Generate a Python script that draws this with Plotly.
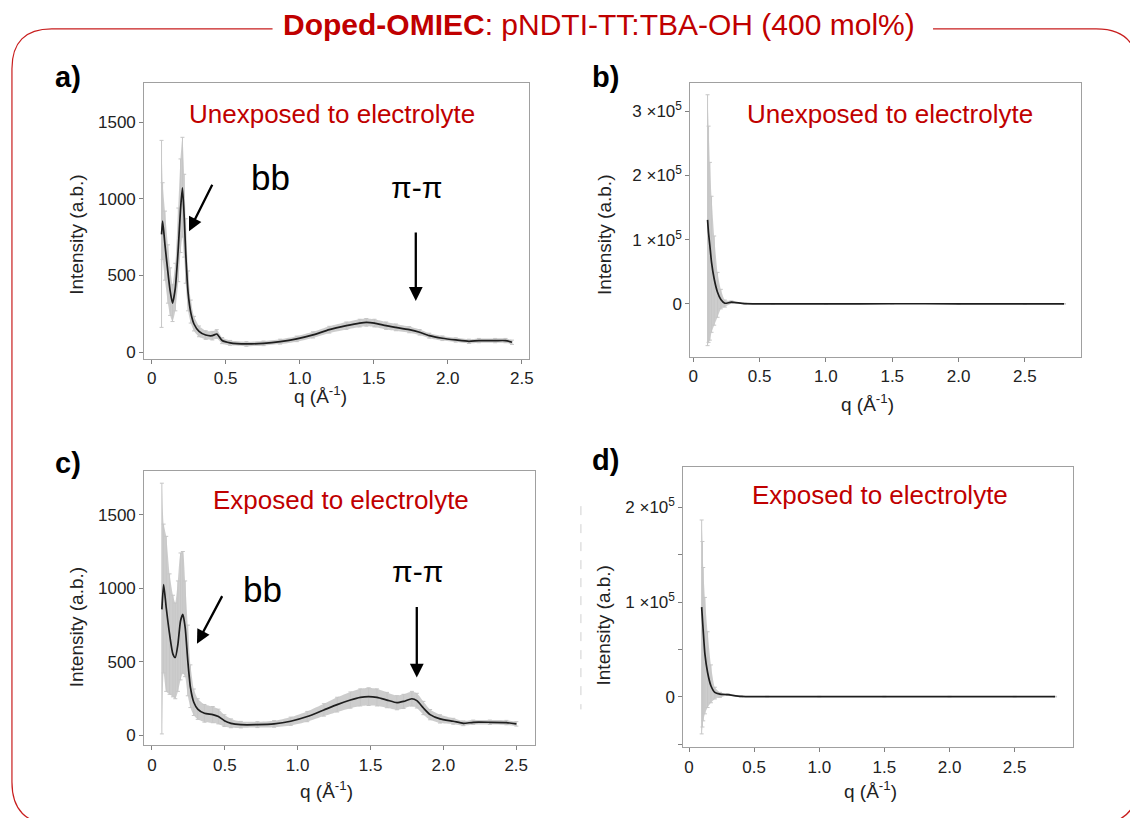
import plotly.graph_objects as go

W, H = 1130, 818
def px(x): return x / W
def py(y): return 1 - y / H

# ---------------- data ----------------
# Panel a: unexposed, full-scale
qa = [0.067, 0.074, 0.09, 0.11, 0.125, 0.141, 0.16, 0.18, 0.195, 0.208, 0.22, 0.23, 0.246, 0.264,
      0.286, 0.32, 0.365, 0.41, 0.44, 0.476, 0.53, 0.64, 0.756, 0.868, 0.98, 1.09, 1.2, 1.315,
      1.405, 1.45, 1.505, 1.584, 1.65, 1.74, 1.81, 1.875, 1.964, 2.054, 2.143, 2.21, 2.32, 2.39, 2.434]
Ia = [768, 855, 700, 520, 400, 320, 420, 680, 930, 1071, 880, 650, 390, 260,
      184, 136, 112, 108, 119, 76, 61, 54, 58, 69, 87, 113, 147, 173,
      190, 195, 190, 173, 162, 147, 130, 108, 91, 80, 71, 76, 76, 76, 65]
Ea_hi = [613, 250, 220, 180, 150, 120, 160, 260, 330, 330, 280, 220, 140, 80,
         50, 35, 28, 28, 28, 20, 16, 15, 15, 16, 18, 20, 22, 24,
         25, 25, 25, 24, 22, 20, 18, 16, 15, 14, 14, 14, 14, 14, 14]
Ea_lo = [606, 250, 230, 200, 160, 120, 150, 220, 280, 320, 260, 200, 120, 70,
         45, 35, 28, 28, 28, 20, 16, 15, 15, 16, 18, 20, 22, 24,
         25, 25, 25, 24, 22, 20, 18, 16, 15, 14, 14, 14, 14, 14, 14]

# Panel b: unexposed, low-q upturn
qb = [0.1075, 0.115, 0.125, 0.1375, 0.1575, 0.1825, 0.2075, 0.2375, 0.2875, 0.3875, 0.6, 1.0, 1.5, 2.0, 2.5, 2.795]
Ib = [130900, 110000, 90500, 64700, 38800, 18100, 6700, 1000, 2600, 300, 150, 120, 200, 150, 100, 80]
Eb_hi = [195000, 167000, 130000, 103000, 67000, 31000, 16000, 5000, 2000, 600, 300, 300, 300, 300, 300, 300]
Eb_lo = [196000, 170000, 147000, 109000, 72000, 39000, 14500, 6000, 2000, 600, 300, 300, 300, 300, 300, 300]

# Panel c: exposed, full-scale
qc = [0.068, 0.08, 0.098, 0.121, 0.144, 0.16, 0.178, 0.196, 0.212, 0.228, 0.246, 0.264, 0.287, 0.314,
      0.36, 0.417, 0.456, 0.497, 0.542, 0.61, 0.724, 0.838, 0.952, 1.066, 1.18, 1.271, 1.362, 1.43,
      1.487, 1.544, 1.613, 1.681, 1.727, 1.784, 1.818, 1.863, 1.909, 1.977, 2.068, 2.137, 2.205,
      2.319, 2.433, 2.501]
Ic = [857, 1026, 868, 688, 553, 530, 620, 778, 823, 733, 508, 327, 226, 180,
      151, 142, 129, 101, 83, 74, 74, 79, 97, 129, 174, 210, 241, 259,
      264, 259, 241, 223, 232, 250, 237, 187, 142, 113, 97, 83, 90,
      90, 88, 79]
Ec_hi = [857, 410, 485, 410, 400, 370, 430, 462, 427, 317, 242, 153, 90, 70,
         60, 55, 50, 40, 30, 22, 20, 22, 28, 35, 42, 50, 55, 58,
         60, 58, 52, 48, 48, 50, 50, 45, 35, 28, 20, 16, 15,
         15, 15, 15]
Ec_lo = [846, 600, 568, 408, 290, 280, 320, 400, 400, 333, 238, 137, 90, 70,
         60, 55, 50, 40, 30, 22, 20, 22, 28, 35, 42, 50, 55, 58,
         60, 58, 52, 48, 48, 50, 50, 45, 35, 28, 20, 16, 15,
         15, 15, 15]

# Panel d: exposed, low-q upturn
qd = [0.097, 0.103, 0.109, 0.122, 0.1425, 0.168, 0.198, 0.237, 0.30, 0.40, 0.6, 1.0, 1.5, 2.0, 2.5, 2.81]
Id = [94700, 82000, 69500, 44900, 25600, 11600, 4600, 2800, 2100, 300, 150, 120, 150, 120, 100, 80]
Ed_hi = [92000, 82000, 67000, 60000, 43000, 22000, 5400, 1800, 800, 500, 300, 300, 300, 300, 300, 300]
Ed_lo = [134000, 114000, 95000, 63000, 37000, 18000, 7000, 3500, 800, 500, 300, 300, 300, 300, 300, 300]

x_tickvals = [0, 0.5, 1.0, 1.5, 2.0, 2.5]
x_ticktext = ["0", "0.5", "1.0", "1.5", "2.0", "2.5"]
ya_tickvals = [0, 500, 1000, 1500]
yb_tickvals = [0, 100000, 200000, 300000]
yb_ticktext = ["0", "1 \u00d710<sup>5</sup>", "2 \u00d710<sup>5</sup>", "3 \u00d710<sup>5</sup>"]
yd_tickvals = [-50000, 0, 50000, 100000, 150000, 200000]
yd_ticktext = ["", "0", "", "1 \u00d710<sup>5</sup>", "", "2 \u00d710<sup>5</sup>"]

FONT = "Liberation Sans, Arial, sans-serif"
RED = "#c00000"

fig = go.Figure()

def add_panel(q, I, hi, lo, xa, ya):
    upper = [i + h for i, h in zip(I, hi)]
    lower = [i - l for i, l in zip(I, lo)]
    common = dict(xaxis=xa, yaxis=ya, showlegend=False, hoverinfo="skip")
    fig.add_trace(go.Scatter(x=q, y=upper, mode="lines",
                             line=dict(width=0, color="rgba(0,0,0,0)", shape="spline", smoothing=0.5), **common))
    fig.add_trace(go.Scatter(x=q, y=lower, mode="lines", fill="tonexty",
                             fillcolor="rgba(200,200,200,0.9)",
                             line=dict(width=0, color="rgba(0,0,0,0)", shape="spline", smoothing=0.5), **common))
    fig.add_trace(go.Scatter(x=q, y=I, mode="lines",
                             line=dict(color="#1e1e1e", width=1.7, shape="spline", smoothing=0.6),
                             error_y=dict(type="data", symmetric=False, array=hi, arrayminus=lo,
                                          color="#c6c6c6", thickness=1, width=2),
                             **common))

add_panel(qa, Ia, Ea_hi, Ea_lo, "x", "y")
add_panel(qb, Ib, Eb_hi, Eb_lo, "x2", "y2")
add_panel(qc, Ic, Ec_hi, Ec_lo, "x3", "y3")
add_panel(qd, Id, Ed_hi, Ed_lo, "x4", "y4")

axis_common = dict(showgrid=False, zeroline=False, showline=True, mirror=True,
                   linecolor="#a0a0a0", linewidth=1, ticks="outside", ticklen=4,
                   tickcolor="#808080", tickfont=dict(size=17, color="#222222", family=FONT))

def xax(dom, rng, anchor):
    return dict(domain=dom, range=rng, anchor=anchor, tickmode="array",
                tickvals=x_tickvals, ticktext=x_ticktext, **axis_common)

fig.update_layout(
    width=W, height=H,
    margin=dict(l=0, r=0, t=0, b=0),
    paper_bgcolor="white", plot_bgcolor="white",
    font=dict(family=FONT, color="#222222"),
    xaxis=xax([px(143), px(530)], [-0.05, 2.55], "y"),
    yaxis=dict(domain=[py(360), py(83)], range=[-42, 1757], anchor="x",
               tickmode="array", tickvals=ya_tickvals, **axis_common),
    xaxis2=xax([px(692), px(1085)], [-0.0225, 2.925], "y2"),
    yaxis2=dict(domain=[py(358), py(83)], range=[-82300, 344700], anchor="x2",
                tickmode="array", tickvals=yb_tickvals, ticktext=yb_ticktext, **axis_common),
    xaxis3=xax([px(143), px(536)], [-0.053, 2.63], "y3"),
    yaxis3=dict(domain=[py(748), py(473)], range=[-66, 1795], anchor="x3",
                tickmode="array", tickvals=ya_tickvals, **axis_common),
    xaxis4=xax([px(685), px(1077)], [-0.0435, 2.95], "y4"),
    yaxis4=dict(domain=[py(750), py(469)], range=[-53400, 242400], anchor="x4",
                tickmode="array", tickvals=yd_tickvals, ticktext=yd_ticktext, **axis_common),
)

ann = []
def text(x, y, s, size, color="#111111", bold=False, angle=0):
    ann.append(dict(x=px(x), y=py(y), xref="paper", yref="paper", text=(f"<b>{s}</b>" if bold else s),
                    showarrow=False, xanchor="center", yanchor="middle", textangle=angle,
                    font=dict(size=size, color=color, family=FONT)))

def arrow(x0, y0, x1, y1):
    ann.append(dict(x=px(x1), y=py(y1), xref="paper", yref="paper", ax=x0 - x1, ay=y0 - y1,
                    axref="pixel", ayref="pixel", text="", showarrow=True,
                    arrowhead=2, arrowsize=1.2, arrowwidth=2.3, arrowcolor="#000000", standoff=0))

# title
ann.append(dict(x=px(600), y=py(25), xref="paper", yref="paper",
                text="<b>Doped-OMIEC</b>: pNDTI-TT:TBA-OH (400 mol%)", showarrow=False,
                xanchor="center", yanchor="middle", font=dict(size=30, color=RED, family=FONT)))

# panel labels
text(66, 77, "a)", 29, "#000000", bold=True)
text(607, 77, "b)", 29, "#000000", bold=True)
text(66, 465, "c)", 29, "#000000", bold=True)
text(607, 462, "d)", 29, "#000000", bold=True)

# panel sub titles
text(332, 114, "Unexposed to electrolyte", 26, RED)
text(893, 114, "Unexposed to electrolyte", 26, RED)
text(341, 502, "Exposed to electrolyte", 26, RED)
text(883, 497, "Exposed to electrolyte", 26, RED)

# peak labels and arrows
text(270, 178, "bb", 35, "#000000")
arrow(212, 184, 188, 232)
text(417, 188, "\u03c0-\u03c0", 30, "#000000")
arrow(416, 232, 416, 302)

text(262, 592, "bb", 35, "#000000")
arrow(222, 597, 196, 646)
text(418, 574, "\u03c0-\u03c0", 30, "#000000")
arrow(417, 608, 417, 680)

# axis titles
for (x, y) in [(75, 236), (605, 236), (75, 630), (605, 628)]:
    text(x, y, "Intensity (a.b.)", 19, "#222222", angle=-90)
for (x, y) in [(320, 396), (870, 404), (326, 793), (873, 793)]:
    text(x, y, "q (\u00c5<sup>-1</sup>)", 19, "#222222")

fig.update_layout(annotations=ann)

# decorative frame (rounded, broken by the title)
def P(x, y): return f"{px(x):.5f},{py(y):.5f}"
frame = ("M " + P(936, 29) + " L " + P(1100, 29) + " Q " + P(1142, 29) + " " + P(1142, 71) +
         " L " + P(1142, 785) + " Q " + P(1142, 827) + " " + P(1100, 827) +
         " L " + P(52, 827) + " Q " + P(10, 827) + " " + P(10, 785) +
         " L " + P(10, 69) + " Q " + P(10, 29) + " " + P(50, 29) + " L " + P(272, 29))
shapes = [dict(type="path", xref="paper", yref="paper", path=frame,
               line=dict(color="#c81e1e", width=1.2)),
          dict(type="line", xref="paper", yref="paper", x0=px(582), x1=px(582), y0=py(508), y1=py(712),
               line=dict(color="#d0d0d0", width=1, dash="dash"))]
fig.update_layout(shapes=shapes)

fig.write_html("out.html")
